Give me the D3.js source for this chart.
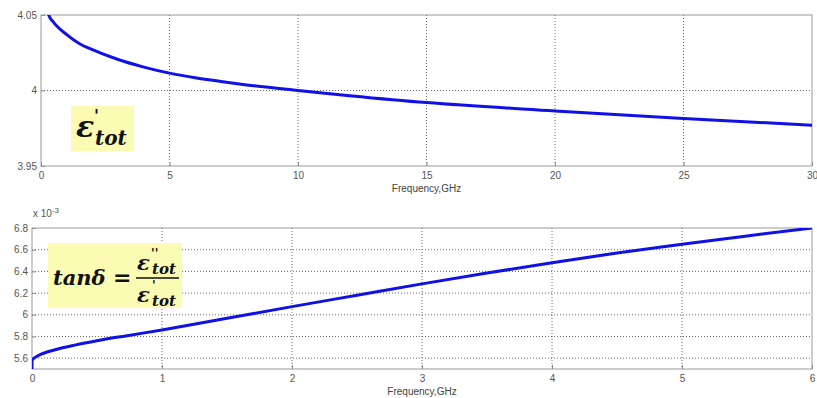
<!DOCTYPE html>
<meta charset="utf-8">
<title>Permittivity and loss tangent</title>
<style>
  body { margin: 0; background: #fff; }
  .tick text { font-family: "Liberation Sans", Arial, sans-serif; font-size: 10px; fill: #555; }
  .grid line { stroke: #444; stroke-dasharray: 1,2; stroke-width: 0.8; }
  .frame { fill: none; stroke: #999; stroke-width: 1; }
  .line { fill: none; stroke: #1010e8; stroke-width: 3px; stroke-linejoin: round; }
  .xlab { font-family: "Liberation Sans", Arial, sans-serif; font-size: 10px; fill: #444; }
  .formula { font-family: "DejaVu Serif", serif; font-weight: bold; font-style: italic; fill: #111; }
</style>
<body>
<script src="https://cdn.jsdelivr.net/npm/d3@7"></script>
<script>
// top plot: real part of permittivity vs frequency
var freqTop = [0.12, 0.3, 0.5, 1, 1.5, 2, 3, 4, 5, 6, 7, 8, 10, 12, 15, 20, 25, 30];
var epsTop  = [4.066, 4.050, 4.045, 4.037, 4.031, 4.027, 4.0205, 4.0155, 4.0115, 4.0085, 4.006, 4.0037, 4.000, 3.9966, 3.992, 3.9865, 3.9815, 3.977];
var xTicksTop = [0, 5, 10, 15, 20, 25, 30];
var yTicksTop = [3.95, 4, 4.05];

// bottom plot: loss tangent (x 1e-3) vs frequency
var freqBot = [0, 0, 0.05, 0.1, 0.2, 0.33, 0.5, 0.72, 1, 1.5, 2, 2.5, 3, 3.5, 4, 4.5, 5, 5.5, 6];
var tanBot  = [5.5, 5.58, 5.625, 5.65, 5.685, 5.72, 5.76, 5.805, 5.86, 5.967, 6.075, 6.18, 6.285, 6.385, 6.48, 6.57, 6.65, 6.727, 6.8];
var xTicksBot = [0, 1, 2, 3, 4, 5, 6];
var yTicksBot = [5.6, 5.8, 6, 6.2, 6.4, 6.6, 6.8];

var svg = d3.select("body").append("svg")
    .attr("width", 817)
    .attr("height", 398);

function panel(opt) {
    var g = svg.append("g")
        .attr("transform", "translate(" + opt.left + "," + opt.top + ")");
    var x = d3.scaleLinear().domain(opt.xDomain).range([0, opt.width]);
    var y = d3.scaleLinear().domain(opt.yDomain).range([opt.height, 0]);

    // grid
    g.append("g").attr("class", "grid")
        .selectAll("line").data(opt.xTicks.slice(1, -1)).enter().append("line")
        .attr("x1", function(d) { return x(d); }).attr("x2", function(d) { return x(d); })
        .attr("y1", 0).attr("y2", opt.height);
    g.append("g").attr("class", "grid")
        .selectAll("line").data(opt.yTicks.filter(function(d) { return y(d) > 1 && y(d) < opt.height - 1; })).enter().append("line")
        .attr("y1", function(d) { return y(d); }).attr("y2", function(d) { return y(d); })
        .attr("x1", 0).attr("x2", opt.width);

    // axes
    var xa = g.append("g")
        .attr("transform", "translate(0," + opt.height + ")")
        .call(d3.axisBottom(x).tickValues(opt.xTicks).tickSizeInner(-4).tickSizeOuter(0).tickPadding(6).tickFormat(d3.format("")));
    var ya = g.append("g")
        .call(d3.axisLeft(y).tickValues(opt.yTicks).tickSizeInner(-4).tickSizeOuter(0).tickPadding(4).tickFormat(d3.format("")));
    [xa, ya].forEach(function(a) {
        a.select(".domain").remove();
        a.selectAll(".tick line").attr("stroke", "#888");
    });

    g.append("rect").attr("class", "frame")
        .attr("width", opt.width).attr("height", opt.height);

    // clip + curve
    g.append("clipPath").attr("id", opt.id)
        .append("rect").attr("width", opt.width).attr("height", opt.height);
    var line = d3.line()
        .curve(d3.curveMonotoneX)
        .x(function(d) { return x(d[0]); })
        .y(function(d) { return y(d[1]); });
    g.append("path")
        .datum(d3.zip(opt.xs, opt.ys))
        .attr("class", "line")
        .attr("clip-path", "url(#" + opt.id + ")")
        .attr("d", line);

    g.append("text").attr("class", "xlab")
        .attr("x", opt.width / 2).attr("y", opt.height + 26)
        .attr("text-anchor", "middle")
        .text("Frequency,GHz");
    return g;
}

panel({id: "c1", left: 41, top: 15, width: 771, height: 151,
    xDomain: [0, 30], yDomain: [3.95, 4.05], xTicks: xTicksTop, yTicks: yTicksTop,
    xs: freqTop, ys: epsTop});

panel({id: "c2", left: 32, top: 228, width: 780, height: 141,
    xDomain: [0, 6], yDomain: [5.5, 6.8], xTicks: xTicksBot, yTicks: yTicksBot,
    xs: freqBot, ys: tanBot});

// exponent label
var ex = svg.append("text").attr("x", 33).attr("y", 217)
    .style("font-family", "Liberation Sans, Arial, sans-serif").style("font-size", "10px").style("fill", "#555");
ex.append("tspan").text("x 10");
ex.append("tspan").attr("dy", -4).style("font-size", "8px").text("-3");

// formula pieces, placed one by one
function piece(x, y, size, s) {
    svg.append("text").attr("class", "formula")
        .attr("x", x).attr("y", y).style("font-size", size + "px").text(s);
}

svg.append("rect").attr("x", 71).attr("y", 106).attr("width", 63).attr("height", 45).attr("fill", "#fbfbb4");
piece(76, 137, 30, "ε");
piece(94, 121, 16, "'");
piece(95, 145, 20, "tot");

svg.append("rect").attr("x", 48).attr("y", 243).attr("width", 134).attr("height", 65).attr("fill", "#fbfbb4");
piece(53, 285, 21, "tanδ");
piece(113, 285, 22, "=");
piece(137, 270, 21, "ε");
piece(151, 258, 12, "''");
piece(152, 274, 15, "tot");
svg.append("line").attr("x1", 136).attr("x2", 179).attr("y1", 278).attr("y2", 278)
    .attr("stroke", "#111").attr("stroke-width", 1.6);
piece(137, 302, 21, "ε");
piece(152, 290, 12, "'");
piece(152, 306, 15, "tot");
</script>
</body>
